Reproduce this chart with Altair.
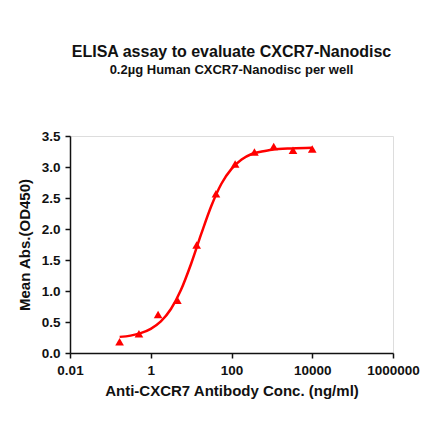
import altair as alt
import pandas as pd

# Measured points (ng/ml, OD450)
conc = [0.169, 0.51, 1.52, 4.57, 13.7, 41.2, 123, 370, 1111, 3333, 10000]
od = [0.18, 0.31, 0.62, 0.85, 1.74, 2.57, 3.05, 3.24, 3.33, 3.27, 3.29]

# Fitted curve
curve_x = [0.17, 0.316, 0.562, 1, 1.78, 3.16, 5.62, 10, 17.8, 31.6, 56.2, 100,
           178, 316, 562, 1000, 3162, 10000]
curve_y = [0.26, 0.28, 0.32, 0.39, 0.51, 0.71, 1.02, 1.44, 1.92, 2.37, 2.73, 2.97,
           3.12, 3.21, 3.25, 3.28, 3.30, 3.31]

x_ticks = [0.01, 1, 100, 10000, 1000000]
y_ticks = [0.0, 0.5, 1.0, 1.5, 2.0, 2.5, 3.0, 3.5]

pts = pd.DataFrame({"x": conc, "y": od})
crv = pd.DataFrame({"x": curve_x, "y": curve_y})

FONT = "Liberation Sans"

xscale = alt.Scale(type="log", domain=[0.01, 1000000], nice=False)
yscale = alt.Scale(domain=[0, 3.5], nice=False, zero=False)

xaxis = alt.Axis(values=x_ticks, format=".2~f", title="Anti-CXCR7 Antibody Conc. (ng/ml)",
                 grid=False, tickSize=5, labelPadding=5, titlePadding=7,
                 labelFontSize=13.5, titleFontSize=15, labelFont=FONT, titleFont=FONT,
                 labelFontWeight="bold", titleFontWeight="bold",
                 labelColor="#111", titleColor="#111", domainColor="#111", tickColor="#111",
                 domainWidth=1.5, tickWidth=1.5, labelFlush=False, labelOverlap=False)
yaxis = alt.Axis(values=y_ticks, format=".1f", title="Mean Abs.(OD450)",
                 grid=False, tickSize=5, labelPadding=5, titlePadding=9,
                 labelFontSize=13.5, titleFontSize=15, labelFont=FONT, titleFont=FONT,
                 labelFontWeight="bold", titleFontWeight="bold",
                 labelColor="#111", titleColor="#111", domainColor="#111", tickColor="#111",
                 domainWidth=1.5, tickWidth=1.5, labelFlush=False, labelOverlap=False,
                 tickCount=8)

enc = dict(
    x=alt.X("x:Q", scale=xscale, axis=xaxis),
    y=alt.Y("y:Q", scale=yscale, axis=yaxis),
)

line = alt.Chart(crv).mark_line(color="#ff0000", strokeWidth=2.5, interpolate="monotone").encode(**enc)
points = alt.Chart(pts).mark_point(shape="triangle-up", filled=True, color="#ff0000",
                                    size=75, opacity=1).encode(**enc)

chart = alt.layer(line, points).properties(
    width=323, height=217,
    title=alt.TitleParams(
        text="ELISA assay to evaluate CXCR7-Nanodisc",
        subtitle="0.2µg Human CXCR7-Nanodisc per well",
        anchor="middle", font=FONT, fontSize=16, fontWeight="bold", color="#111",
        subtitleFont=FONT, subtitleFontSize=13, subtitleFontWeight="bold",
        subtitleColor="#111", subtitlePadding=4, offset=52,
    ),
    autosize=alt.AutoSizeParams(type="none"),
    padding={"left": 62, "top": 128, "right": 39, "bottom": 60},
).configure_view(stroke=None).configure(background="white")

chart.save("out.html", embed_options={"renderer": "svg", "actions": False})
